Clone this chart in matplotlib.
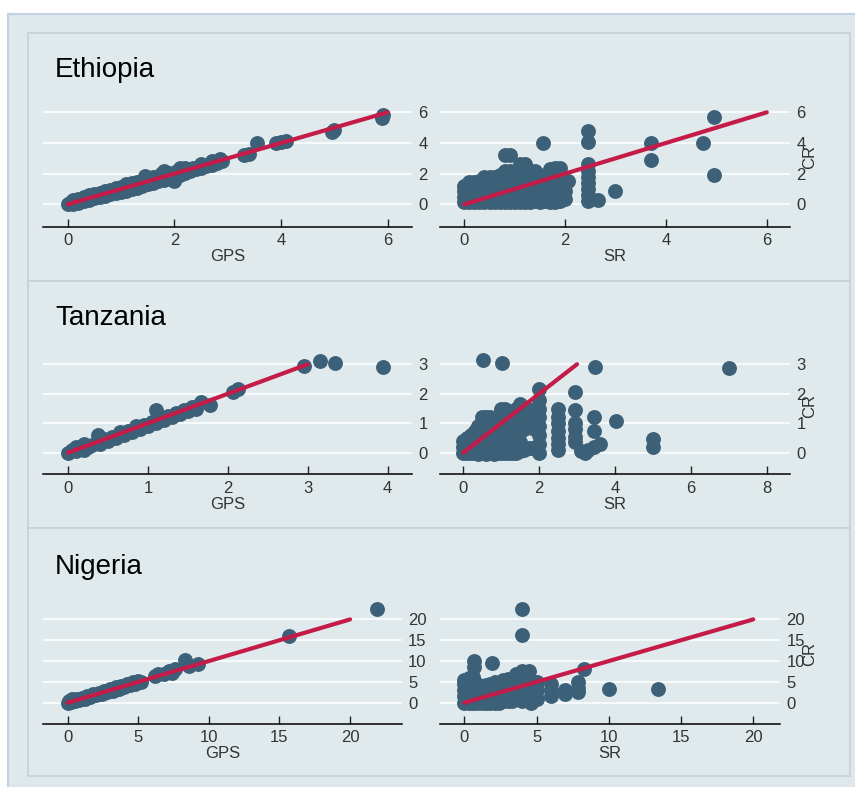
import matplotlib
matplotlib.use("Agg")
import matplotlib.pyplot as plt
from matplotlib.patches import Rectangle

plt.rcParams['font.family'] = ['Liberation Sans', 'DejaVu Sans']

# ---------- data ----------
countries = ['Ethiopia', 'Tanzania', 'Nigeria']

# Ethiopia: GPS vs CR
eth_gps = [(0.0, 0.0), (0.05, 0.1), (0.1, 0.05), (0.1, 0.25), (0.2, 0.1), (0.2, 0.35), (0.3, 0.2), (0.3, 0.5),
           (0.4, 0.3), (0.4, 0.6), (0.5, 0.4), (0.5, 0.65), (0.6, 0.5), (0.6, 0.75), (0.7, 0.55), (0.7, 0.85),
           (0.8, 0.65), (0.8, 0.95), (0.9, 0.75), (0.9, 1.05), (1.0, 0.8), (1.0, 1.15), (1.1, 0.9), (1.1, 1.3),
           (1.2, 1.0), (1.2, 1.4), (1.3, 1.05), (1.3, 1.45), (1.4, 1.2), (1.45, 1.85), (1.5, 1.3), (1.5, 1.65),
           (1.6, 1.4), (1.6, 1.75), (1.7, 1.5), (1.75, 1.95), (1.8, 1.6), (1.8, 2.2), (1.9, 1.75), (1.9, 2.05),
           (2.0, 1.5), (2.0, 1.85), (2.05, 2.2), (2.1, 1.9), (2.1, 2.35), (2.2, 2.05), (2.2, 2.35), (2.3, 2.15),
           (2.35, 2.4), (2.4, 2.3), (2.5, 2.35), (2.5, 2.6), (2.6, 2.5), (2.7, 2.55), (2.7, 2.8), (2.8, 2.7),
           (2.85, 2.95), (2.9, 2.8), (3.3, 3.2), (3.4, 3.25), (3.55, 4.0), (3.9, 4.0), (4.0, 4.05), (4.1, 4.1),
           (4.95, 4.7), (5.0, 4.85), (5.9, 5.65), (5.92, 5.8)]

# Ethiopia: SR vs CR
eth_sr = [(0.0, 0.15), (0.0, 0.5), (0.0, 0.85), (0.0, 1.2),
          (0.1, 0.15), (0.1, 0.5), (0.1, 0.85), (0.1, 1.2), (0.1, 1.45),
          (0.2, 0.15), (0.2, 0.5), (0.2, 0.85), (0.2, 1.2), (0.2, 1.45),
          (0.3, 0.15), (0.3, 0.5), (0.3, 0.9), (0.3, 1.25), (0.3, 1.5),
          (0.4, 0.15), (0.4, 0.55), (0.4, 0.95), (0.4, 1.35), (0.4, 1.8),
          (0.5, 0.15), (0.5, 0.5), (0.5, 0.9), (0.5, 1.3), (0.5, 1.8),
          (0.6, 0.15), (0.6, 0.55), (0.6, 1.0), (0.6, 1.4), (0.6, 1.75),
          (0.7, 0.15), (0.7, 0.5), (0.7, 0.95), (0.7, 1.4), (0.7, 1.9),
          (0.8, 0.15), (0.8, 0.6), (0.8, 1.0), (0.8, 1.5), (0.8, 2.2), (0.8, 3.2),
          (0.9, 0.15), (0.9, 0.55), (0.9, 1.0), (0.9, 1.5), (0.9, 2.2), (0.9, 3.2),
          (1.0, 0.15), (1.0, 0.6), (1.0, 1.05), (1.0, 1.5), (1.0, 2.0),
          (1.1, 0.15), (1.1, 0.55), (1.1, 1.0), (1.1, 1.6), (1.1, 2.2), (1.1, 2.6),
          (1.2, 0.15), (1.2, 0.6), (1.2, 1.1), (1.2, 1.6), (1.2, 2.1), (1.2, 2.6),
          (1.3, 0.15), (1.3, 0.5), (1.3, 1.0), (1.3, 1.5), (1.3, 2.2),
          (1.4, 0.2), (1.4, 0.6), (1.4, 1.1), (1.4, 1.6), (1.4, 2.2),
          (1.5, 0.15), (1.5, 0.55), (1.5, 1.0), (1.5, 1.5), (1.5, 1.9),
          (1.57, 4.0),
          (1.6, 0.2), (1.6, 0.6), (1.6, 1.1),
          (1.7, 0.15), (1.7, 0.6), (1.7, 1.0), (1.7, 1.6), (1.7, 2.3),
          (1.8, 0.15), (1.8, 0.5), (1.8, 1.0), (1.8, 1.5), (1.8, 2.4),
          (1.9, 0.2), (1.9, 0.6), (1.9, 1.1), (1.9, 1.6), (1.9, 2.4),
          (2.0, 0.35), (2.0, 0.9), (2.05, 1.55),
          (2.45, 0.2), (2.45, 0.6), (2.45, 1.0), (2.45, 1.4), (2.45, 1.8), (2.45, 2.2), (2.45, 2.6),
          (2.45, 4.05), (2.45, 4.75),
          (2.65, 0.3), (2.98, 0.85), (3.7, 2.9), (3.7, 4.0), (4.73, 4.0), (4.95, 1.9), (4.95, 5.7)]

# Tanzania: GPS vs CR
tza_gps = [(0.0, 0.0), (0.05, 0.1), (0.1, 0.05), (0.1, 0.2), (0.15, 0.15), (0.2, 0.1), (0.2, 0.3), (0.25, 0.2),
           (0.3, 0.25), (0.38, 0.6), (0.4, 0.3), (0.45, 0.45), (0.5, 0.4), (0.55, 0.55), (0.6, 0.5), (0.65, 0.7),
           (0.7, 0.6), (0.75, 0.75), (0.8, 0.7), (0.85, 0.9), (0.9, 0.8), (0.95, 0.95), (1.0, 0.9), (1.05, 1.05),
           (1.1, 1.0), (1.1, 1.45), (1.15, 1.15), (1.2, 1.1), (1.25, 1.25), (1.3, 1.2), (1.35, 1.35), (1.4, 1.3),
           (1.45, 1.45), (1.5, 1.4), (1.55, 1.55), (1.6, 1.5), (1.66, 1.73), (1.78, 1.62), (2.07, 2.07),
           (2.13, 2.15), (2.95, 2.94), (3.15, 3.12), (3.34, 3.05), (3.94, 2.9)]

# Tanzania: SR vs CR
tza_sr = [(0.0, 0.0), (0.0, 0.2), (0.0, 0.4),
          (0.1, 0.0), (0.1, 0.25), (0.1, 0.5),
          (0.2, 0.0), (0.2, 0.3), (0.2, 0.6),
          (0.3, 0.0), (0.3, 0.3), (0.3, 0.6), (0.3, 0.75),
          (0.4, -0.05), (0.4, 0.3), (0.4, 0.6), (0.4, 0.9),
          (0.5, 0.0), (0.5, 0.35), (0.5, 0.7), (0.5, 1.0), (0.5, 1.2),
          (0.6, -0.05), (0.6, 0.3), (0.6, 0.6), (0.6, 0.9), (0.6, 1.2),
          (0.7, 0.0), (0.7, 0.3), (0.7, 0.6), (0.7, 0.9), (0.7, 1.2),
          (0.8, -0.05), (0.8, 0.3), (0.8, 0.6), (0.8, 0.9), (0.8, 1.15),
          (0.9, 0.0), (0.9, 0.3), (0.9, 0.6), (0.9, 0.9), (0.9, 1.2),
          (1.0, 0.0), (1.0, 0.3), (1.0, 0.6), (1.0, 0.9), (1.0, 1.2), (1.0, 1.5),
          (1.1, 0.0), (1.1, 0.3), (1.1, 0.6), (1.1, 0.9), (1.1, 1.2), (1.1, 1.5),
          (1.2, 0.0), (1.2, 0.35), (1.2, 0.7), (1.2, 1.0), (1.2, 1.25),
          (1.3, 0.0), (1.3, 0.3), (1.3, 0.6), (1.3, 0.9), (1.3, 1.2),
          (1.4, 0.0), (1.4, 0.3), (1.4, 0.6), (1.4, 0.9), (1.4, 1.2), (1.4, 1.5),
          (1.5, 0.05), (1.5, 0.35), (1.5, 0.7), (1.5, 1.0), (1.5, 1.3), (1.5, 1.65),
          (1.6, 0.1), (1.6, 0.8), (1.6, 1.1), (1.6, 1.4),
          (1.7, 0.15), (1.7, 0.9), (1.7, 1.2), (1.7, 1.5),
          (1.8, 0.15), (1.8, 0.85), (1.8, 1.05), (1.8, 1.35),
          (1.9, 0.15), (1.9, 0.9), (1.9, 1.2),
          (2.0, 0.0), (2.0, 0.3), (2.0, 0.6), (2.0, 0.9), (2.0, 1.2), (2.0, 1.5), (2.0, 1.8), (2.0, 2.15),
          (2.5, 0.1), (2.5, 0.3), (2.5, 0.5), (2.5, 0.75), (2.5, 1.0), (2.5, 1.2), (2.5, 1.5),
          (2.95, 0.35), (2.95, 0.55), (2.95, 0.8), (2.95, 1.0), (2.95, 1.45), (2.95, 2.05),
          (3.1, 0.05), (3.2, 0.0), (3.3, 0.1), (3.45, 0.2), (3.45, 0.75), (3.45, 1.2), (3.47, 2.9),
          (3.6, 0.3), (4.03, 1.07), (5.0, 0.2), (5.0, 0.45),
          (0.53, 3.15), (1.01, 3.05), (7.02, 2.87)]

# Nigeria: GPS vs CR
nga_gps = [(0.0, 0.0), (0.1, 0.5), (0.2, 0.2), (0.3, 0.8), (0.5, 0.4), (0.6, 1.0), (0.8, 0.7), (1.0, 1.2),
           (1.2, 1.0), (1.4, 1.6), (1.6, 1.4), (1.8, 2.0), (2.0, 1.8), (2.2, 2.4), (2.4, 2.1), (2.6, 2.9),
           (2.8, 2.6), (3.0, 3.2), (3.2, 2.9), (3.4, 3.7), (3.6, 3.2), (3.8, 4.0), (4.0, 3.8), (4.2, 4.5),
           (4.4, 4.2), (4.6, 5.0), (4.8, 4.6), (5.0, 5.3), (5.2, 5.0), (6.2, 6.5), (6.4, 7.0), (6.8, 6.8),
           (7.2, 7.6), (7.4, 7.2), (7.6, 8.0), (8.3, 10.2), (8.6, 8.8), (9.2, 9.2), (15.7, 15.9), (21.9, 22.6)]

# Nigeria: SR vs CR
nga_sr = [(0.0, 0.0), (0.0, 1.5), (0.0, 3.0), (0.0, 4.5), (0.0, 5.5),
          (0.3, 0.0), (0.3, 1.5), (0.3, 3.0), (0.3, 4.5), (0.3, 6.0),
          (0.6, 0.0), (0.6, 1.5), (0.6, 3.0), (0.6, 4.5), (0.6, 6.2),
          (0.7, 8.5), (0.7, 10.0),
          (0.9, 0.0), (0.9, 1.5), (0.9, 3.0), (0.9, 4.5),
          (1.2, 0.0), (1.2, 1.5), (1.2, 3.0), (1.2, 4.0),
          (1.5, 0.0), (1.5, 1.5), (1.5, 3.0), (1.5, 4.2),
          (1.8, 0.0), (1.8, 1.5), (1.8, 3.0), (1.8, 4.5), (1.9, 9.5),
          (2.1, 0.0), (2.1, 1.5), (2.1, 3.0), (2.1, 5.0),
          (2.4, 0.0), (2.4, 1.5), (2.4, 3.0), (2.4, 4.0),
          (2.7, 0.5), (2.7, 2.0), (2.7, 3.5), (2.7, 5.5),
          (3.0, 0.5), (3.0, 2.0), (3.0, 3.5), (3.0, 5.8),
          (3.3, 0.5), (3.3, 2.0), (3.3, 3.5), (3.3, 5.0),
          (3.6, 1.0), (3.6, 2.5), (3.6, 4.0), (3.6, 7.0),
          (3.97, 16.2), (3.97, 22.5),
          (4.0, 0.5), (4.0, 2.0), (4.0, 3.5), (4.0, 5.0), (4.0, 7.5),
          (4.3, 1.5), (4.3, 3.0), (4.3, 4.5), (4.3, 6.0), (4.5, 7.5),
          (4.6, 0.0), (4.6, 1.5), (4.6, 3.0), (4.6, 4.5),
          (5.0, 1.0), (5.0, 3.0), (5.0, 5.0),
          (6.0, 1.5), (6.0, 3.0), (6.0, 4.5),
          (7.0, 2.0), (7.0, 3.0),
          (7.9, 2.5), (7.9, 3.5), (7.9, 5.0), (8.3, 8.2),
          (10.0, 3.4), (13.4, 3.4)]

# red reference line end points per country
ref_lines = [[0, 6], [0, 3], [0, 20]]

# ticks
eth_yticks = [0, 2, 4, 6]
tza_yticks = [0, 1, 2, 3]
nga_yticks = [0, 5, 10, 15, 20]
eth_xticks = [0, 2, 4, 6]
tza_gps_xticks = [0, 1, 2, 3, 4]
tza_sr_xticks = [0, 2, 4, 6, 8]
nga_xticks = [0, 5, 10, 15, 20]

# ---------- style ----------
W, H = 855, 787
bg = '#dfe9eb'
dot_color = '#3d6079'
line_color = '#c41b48'
text_color = '#333333'


def px_rect(x0, y0, x1, y1):
    # pixel box (from top-left) -> figure fraction [left, bottom, width, height]
    return [x0 / W, 1 - y1 / H, (x1 - x0) / W, (y1 - y0) / H]


fig = plt.figure(figsize=(W / 100, H / 100), dpi=100, facecolor='white')

# outer region and the three panel boxes
l, b, w, h = px_rect(8, 14, 856, 788)
fig.patches.append(Rectangle((l, b), w, h, transform=fig.transFigure, facecolor=bg,
                             edgecolor='#c3d0df', linewidth=1.5, zorder=-3))
panel_boxes = [(28, 33, 850, 281), (28, 281, 850, 528), (28, 528, 850, 776)]
for box in panel_boxes:
    l, b, w, h = px_rect(*box)
    fig.patches.append(Rectangle((l, b), w, h, transform=fig.transFigure, facecolor='#e0eaec',
                                 edgecolor='#c6d2d6', linewidth=1.3, zorder=-2))

# title positions (left, baseline) in pixels
title_pos = [(55, 76.7), (55, 325), (55, 574.3)]

# axes boxes in pixels: (x0, x1), top of plot area and y of the x axis line
rows = [
    dict(top=87, bottom=226.7,
         left=dict(box=(42.7, 412), xlim=(-0.469, 6.456), xt=eth_xticks, pts=eth_gps),
         right=dict(box=(440, 790), xlim=(-0.482, 6.46), xt=eth_xticks, pts=eth_sr),
         ylim=(-1.46, 7.65), yt=eth_yticks),
    dict(top=338, bottom=474.3,
         left=dict(box=(42.7, 412), xlim=(-0.316, 4.304), xt=tza_gps_xticks, pts=tza_gps),
         right=dict(box=(440, 790), xlim=(-0.615, 8.62), xt=tza_sr_xticks, pts=tza_sr),
         ylim=(-0.73, 3.89), yt=tza_yticks),
    dict(top=584, bottom=723.7,
         left=dict(box=(42.7, 401.7), xlim=(-1.77, 23.66), xt=nga_xticks, pts=nga_gps),
         right=dict(box=(440, 780), xlim=(-1.68, 21.85), xt=nga_xticks, pts=nga_sr),
         ylim=(-5.04, 28.5), yt=nga_yticks),
]

for i, row in enumerate(rows):
    tx, ty = title_pos[i]
    fig.text(tx / W, 1 - ty / H, countries[i], fontsize=20, color='black', va='baseline', ha='left')
    for side, xlabel in (('left', 'GPS'), ('right', 'SR')):
        spec = row[side]
        x0, x1 = spec['box']
        ax = fig.add_axes(px_rect(x0, row['top'], x1, row['bottom']))
        ax.patch.set_alpha(0)
        xs = [p[0] for p in spec['pts']]
        ys = [p[1] for p in spec['pts']]
        ax.scatter(xs, ys, s=115, color=dot_color, linewidths=0, zorder=2)
        ax.plot(ref_lines[i], ref_lines[i], color=line_color, linewidth=3, zorder=3,
                solid_capstyle='round')
        ax.set_xlim(*spec['xlim'])
        ax.set_ylim(*row['ylim'])
        ax.set_xticks(spec['xt'])
        ax.set_yticks(row['yt'])
        ax.yaxis.tick_right()
        ax.grid(axis='y', color='white', linewidth=1.1)
        ax.set_axisbelow(True)
        for s in ('top', 'left', 'right'):
            ax.spines[s].set_visible(False)
        ax.spines['bottom'].set_color('black')
        ax.spines['bottom'].set_linewidth(1.1)
        ax.tick_params(axis='x', direction='in', length=6, width=1, color='#222222',
                       labelsize=12, labelcolor=text_color, pad=4.5)
        ax.tick_params(axis='y', length=0, labelsize=12, labelcolor=text_color, pad=4.5)
        ax.set_xlabel(xlabel, fontsize=12, color=text_color, labelpad=1)
        if side == 'right':
            # the CR title sits on top of the tick labels, as in the original
            ax.text(1 + (810 - x1) / (x1 - x0), 0.5, 'CR', rotation=90, transform=ax.transAxes,
                    ha='center', va='center', fontsize=12, color=text_color)

fig.savefig('out.png', dpi=100, facecolor='white')
